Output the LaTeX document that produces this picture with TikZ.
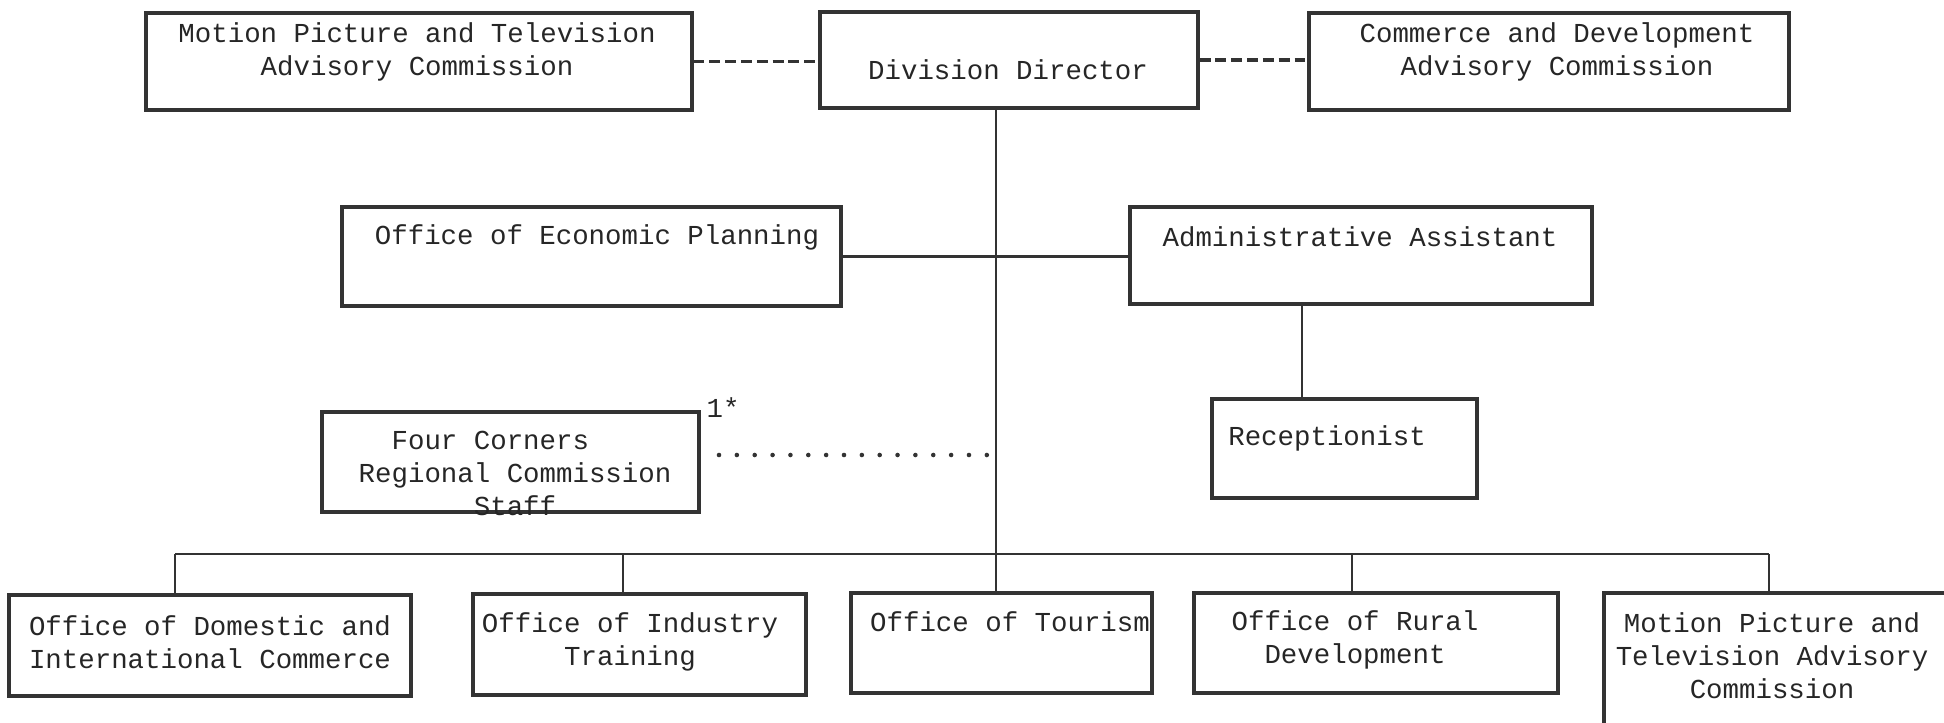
\documentclass[tikz,border=0pt]{standalone}
\usepackage{fontspec}
\setmonofont{Liberation Mono}
\tikzset{
  unit/.style={
    draw=black!80,
    line width=0.9pt,
    inner sep=0pt
  },
  lbl/.style={
    font=\ttfamily\fontsize{7.8}{9.4}\selectfont,
    text=black!85,
    align=center,
    inner sep=0pt
  },
  link/.style={
    draw=black!80,
    line width=0.8pt
  },
  thinlink/.style={
    draw=black!80,
    line width=0.5pt
  },
  advisory/.style={
    draw=black!80,
    line width=1pt,
    dash pattern=on 3.1pt off 1.4pt
  },
  liaison/.style={
    draw=black!80,
    line width=1.3pt,
    line cap=round,
    dash pattern=on 0pt off 5.08pt
  }
}
\begin{document}
\begin{tikzpicture}
  \useasboundingbox (0,0) rectangle (19.44,-7.22);
  \clip (0,0) rectangle (19.44,-7.22);
  % top row
  \node[unit,minimum width=5.46cm,minimum height=0.97cm] (mpt) at (4.19,-0.615) {};
  \node[unit,minimum width=3.78cm,minimum height=0.96cm] (dd) at (10.09,-0.60) {};
  \node[unit,minimum width=4.80cm,minimum height=0.97cm] (cda) at (15.49,-0.615) {};
  \node[lbl] (mpttxt) at (4.17,-0.515) {Motion Picture and Television\\Advisory Commission};
  \node[lbl] (ddtxt) at (10.08,-0.70) {Division Director};
  \node[lbl] (cdatxt) at (15.57,-0.515) {Commerce and Development\\Advisory Commission};
  % staff
  \node[unit,minimum width=4.99cm,minimum height=0.99cm] (econ) at (5.915,-2.565) {};
  \node[unit,minimum width=4.62cm,minimum height=0.97cm] (admin) at (13.61,-2.555) {};
  \node[unit,minimum width=2.65cm,minimum height=0.99cm] (recep) at (13.445,-4.485) {};
  \node[unit,minimum width=3.77cm,minimum height=1.00cm] (fcr) at (5.105,-4.62) {};
  \node[lbl] (econtxt) at (5.97,-2.37) {Office of Economic Planning};
  \node[lbl] (admintxt) at (13.60,-2.37) {Administrative Assistant};
  \node[lbl] (receptxt) at (13.27,-4.38) {Receptionist};
  \node[lbl] (fcrtxt) at (5.15,-4.735) {Four Corners\hspace*{1.8em}\\Regional Commission\\Staff};
  \node[lbl] (note) at (7.23,-4.08) {1*};
  % offices
  \node[unit,minimum width=4.02cm,minimum height=1.01cm] (boxA) at (2.10,-6.455) {};
  \node[unit,minimum width=3.33cm,minimum height=1.01cm] (boxB) at (6.395,-6.445) {};
  \node[unit,minimum width=3.01cm,minimum height=1.00cm] (boxC) at (10.015,-6.43) {};
  \node[unit,minimum width=3.64cm,minimum height=1.00cm] (boxD) at (13.76,-6.43) {};
  \node[unit,minimum width=4.00cm,minimum height=1.60cm] (boxE) at (18.04,-6.73) {};
  \node[lbl] (boxAtxt) at (2.10,-6.42) {Office of Domestic and\\International Commerce};
  \node[lbl] (boxBtxt) at (6.30,-6.42) {Office of Industry\\Training};
  \node[lbl] (boxCtxt) at (10.10,-6.22) {Office of Tourism};
  \node[lbl] (boxDtxt) at (13.55,-6.40) {Office of Rural\\Development};
  \node[lbl] (boxEtxt) at (17.72,-6.56) {Motion Picture and\\Television Advisory\\Commission};
  % connectors
  \coordinate (trunk) at (9.96,0);
  \coordinate (bus) at (0,-5.54);
  \coordinate (dotA) at (7.19,-4.55);
  \draw[advisory] (mpt.east) -- (mpt.east -| dd.west);
  \draw[advisory] (dd.east) -- (dd.east -| cda.west);
  \draw[thinlink] (dd.south -| trunk) -- (boxC.north -| trunk);
  \draw[link] (econ.east) -- (econ.east -| admin.west);
  \draw[thinlink] ([xshift=-5.9mm]admin.south) -- ([xshift=-5.9mm]admin.south |- recep.north);
  \draw[liaison, shorten >=0.75mm] (dotA) -- (dotA -| trunk);
  \draw[link] ([xshift=-3.5mm]boxA.north |- bus) -- ([xshift=-3.5mm]boxE.north |- bus);
  \foreach \b/\dx in {boxA/-3.5,boxB/-1.65,boxD/-2.4,boxE/-3.5}{
    \draw[thinlink] ([xshift=\dx mm]\b.north) -- ([xshift=\dx mm]\b.north |- bus);
  }
\end{tikzpicture}
\end{document}
